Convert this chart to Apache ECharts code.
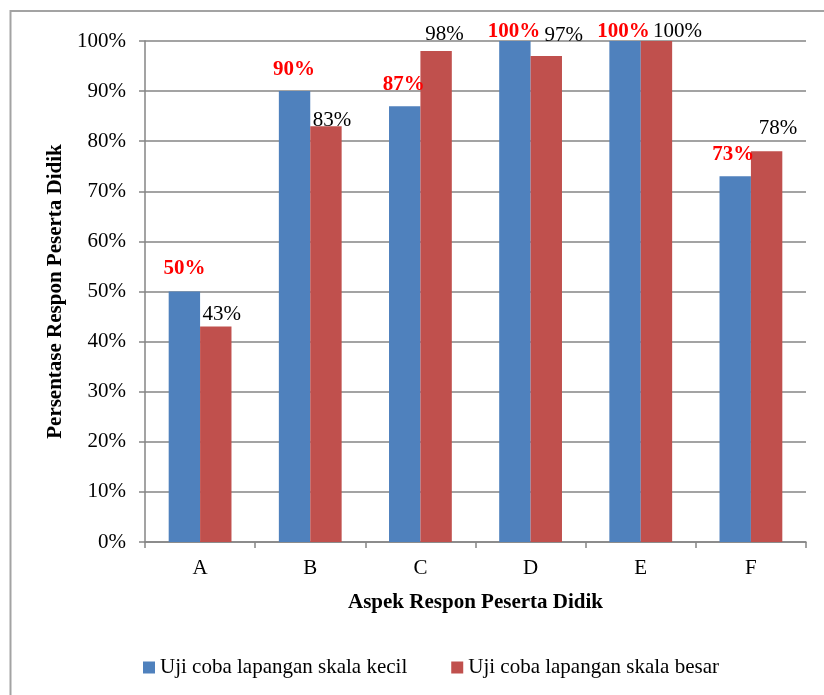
<!DOCTYPE html>
<html>
<head>
<meta charset="utf-8">
<script src="https://cdn.jsdelivr.net/npm/echarts@6/dist/echarts.min.js"></script>
<style>
html,body{margin:0;padding:0;background:#fff;}
#chart{width:824px;height:695px;}
</style>
</head>
<body>
<div id="chart"></div>
<script>
// ---- data ----
const categories = ['A', 'B', 'C', 'D', 'E', 'F'];
const seriesNames = ['Uji coba lapangan skala kecil', 'Uji coba lapangan skala besar'];
const kecil = [50, 90, 87, 100, 100, 73];
const besar = [43, 83, 98, 97, 100, 78];
const yMin = 0, yMax = 100, yStep = 10;

// ---- label layout (manual placement as in the original) ----
const kecilLabelShift = [[0, -7], [-0.5, -6], [-1, -6], [-1, 6], [-1.5, 6], [-2, -6]];
const besarLabelShift = [[6, 3], [6, 10], [8.5, -1], [17.5, -5], [21, 6], [11.5, -7]];

const FONT = 'Liberation Serif';
const GRID = '#858585';

function items(values, shifts) {
  return values.map((v, i) => ({ value: v, label: { offset: shifts[i] } }));
}

const chart = echarts.init(document.getElementById('chart'));
chart.setOption({
  animation: false,
  backgroundColor: '#fff',
  textStyle: { fontFamily: FONT },
  graphic: [{
    type: 'rect',
    shape: { x: 10.5, y: 11, width: 900, height: 900 },
    style: { fill: 'none', stroke: '#a3a3a3', lineWidth: 2 },
    silent: true
  }],
  grid: { left: 145, right: 18, top: 41, bottom: 153, containLabel: false },
  legend: {
    left: 138, top: 652,
    itemWidth: 12, itemHeight: 12, itemGap: 44,
    icon: 'rect',
    textStyle: { fontFamily: FONT, fontSize: 21, color: '#000' },
    data: seriesNames
  },
  xAxis: {
    type: 'category',
    data: categories,
    name: 'Aspek Respon Peserta Didik',
    nameLocation: 'middle',
    nameGap: 50,
    nameTextStyle: { fontFamily: FONT, fontSize: 21, fontWeight: 'bold', color: '#000' },
    axisLine: { lineStyle: { color: GRID, width: 1.5 } },
    axisTick: { show: true, length: 6, lineStyle: { color: GRID, width: 1.5 } },
    axisLabel: { fontFamily: FONT, fontSize: 21, color: '#000', margin: 16 }
  },
  yAxis: {
    type: 'value',
    min: yMin, max: yMax, interval: yStep,
    name: 'Persentase Respon Peserta Didik',
    nameLocation: 'middle',
    nameGap: 78,
    nameRotate: 90,
    nameTextStyle: { fontFamily: FONT, fontSize: 21, fontWeight: 'bold', color: '#000' },
    axisLine: { show: true, lineStyle: { color: GRID, width: 1.5 } },
    axisTick: { show: true, length: 6, lineStyle: { color: GRID, width: 1.5 } },
    axisLabel: { fontFamily: FONT, fontSize: 21, color: '#000', margin: 19, formatter: '{value}%' },
    splitLine: { show: true, lineStyle: { color: GRID, width: 1.5 } }
  },
  series: [
    {
      name: seriesNames[0],
      type: 'bar',
      data: items(kecil, kecilLabelShift),
      barGap: '0%',
      barCategoryGap: '43%',
      itemStyle: { color: '#4F81BD' },
      label: {
        show: true, position: 'top', distance: 5,
        formatter: '{c}%',
        fontFamily: FONT, fontSize: 21, fontWeight: 'bold', color: '#FF0000'
      }
    },
    {
      name: seriesNames[1],
      type: 'bar',
      data: items(besar, besarLabelShift),
      barGap: '0%',
      barCategoryGap: '43%',
      itemStyle: { color: '#C0504D' },
      label: {
        show: true, position: 'top', distance: 5,
        formatter: '{c}%',
        fontFamily: FONT, fontSize: 21, color: '#000'
      }
    }
  ]
});
</script>
</body>
</html>
